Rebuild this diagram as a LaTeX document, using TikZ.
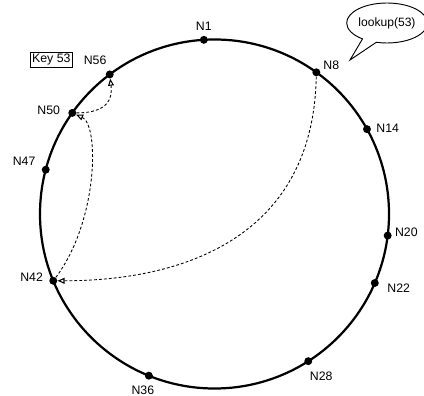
\documentclass[tikz,border=0pt]{standalone}
\usepackage{fontspec}
\setmainfont{Liberation Sans}
\usepackage{tikz}
\usetikzlibrary{arrows.meta, positioning, shapes.callouts}

\tikzset{
  peer/.style={circle, fill=black, inner sep=0pt, minimum size=6.8pt},
  peerlabel/.style={inner sep=0pt, font=\fontsize{10.5}{12}\selectfont},
  keybox/.style={draw, line width=0.6pt, inner sep=1.5pt, font=\fontsize{10.5}{12}\selectfont},
  bubble/.style={ellipse callout, draw, line width=0.8pt, minimum width=2.07cm, minimum height=1.2cm, inner sep=0pt, callout pointer arc=22, font=\fontsize{10.3}{12}\selectfont},
  hop/.style={line width=0.75pt, dash pattern=on 2.4pt off 1.8pt, -{Triangle[open, length=6pt, width=5pt, line width=0.9pt]}}
}

\begin{document}
\begin{tikzpicture}[x=0.03cm, y=-0.03cm]
\useasboundingbox (0,0) rectangle (424,396);
\coordinate (c) at (214.5,214);
\draw[line width=1.9pt] (c) circle[radius=5.235cm];

% peers on the ring
\node[peer] (n1) at ([shift={(93.5:5.235cm)}]c) {};
\node[peer] (n8) at ([shift={(54.3:5.235cm)}]c) {};
\node[peer] (n14) at ([shift={(29.1:5.235cm)}]c) {};
\node[peer] (n20) at ([shift={(-7.1:5.235cm)}]c) {};
\node[peer] (n22) at ([shift={(-23.3:5.235cm)}]c) {};
\node[peer] (n28) at ([shift={(-57.5:5.235cm)}]c) {};
\node[peer] (n36) at ([shift={(-112.1:5.235cm)}]c) {};
\node[peer] (n42) at ([shift={(202.5:5.235cm)}]c) {};
\node[peer] (n47) at ([shift={(165.3:5.235cm)}]c) {};
\node[peer] (n50) at ([shift={(144.6:5.235cm)}]c) {};
\node[peer] (n56) at ([shift={(126.9:5.235cm)}]c) {};

% labels
\node[peerlabel] (l1) at ([shift={(0,-13.7)}]n1) {N1};
\node[peerlabel] (l8) at ([shift={(15,-7)}]n8) {N8};
\node[peerlabel] (l14) at ([shift={(20.7,-1)}]n14) {N14};
\node[peerlabel] (l20) at ([shift={(18.7,-3.7)}]n20) {N20};
\node[peerlabel] (l22) at ([shift={(24,5)}]n22) {N22};
\node[peerlabel] (l28) at ([shift={(13,15)}]n28) {N28};
\node[peerlabel] (l36) at ([shift={(-6,14.5)}]n36) {N36};
\node[peerlabel] (l42) at ([shift={(-21.7,-3.5)}]n42) {N42};
\node[peerlabel] (l47) at ([shift={(-21.6,-8.2)}]n47) {N47};
\node[peerlabel] (l50) at ([shift={(-23.5,-3)}]n50) {N50};
\node[peerlabel] (l56) at ([shift={(-14.6,-14.5)}]n56) {N56};

\node[keybox, left=0.33cm of l56] (key) {Key 53};

% query
\coordinate (tip) at (350,60);
\node[bubble, callout absolute pointer={(tip)}] (ask) at (387,23) {lookup(53)};

% lookup hops
\draw[hop] (n8) .. controls +(-3,165) and +(130,0) .. (n42);
\draw[hop] (n42) .. controls +(45,-60) and +(27,12) .. (n50);
\draw[hop] (n50) .. controls +(35,0) and +(3,25) .. (n56);
\end{tikzpicture}
\end{document}
